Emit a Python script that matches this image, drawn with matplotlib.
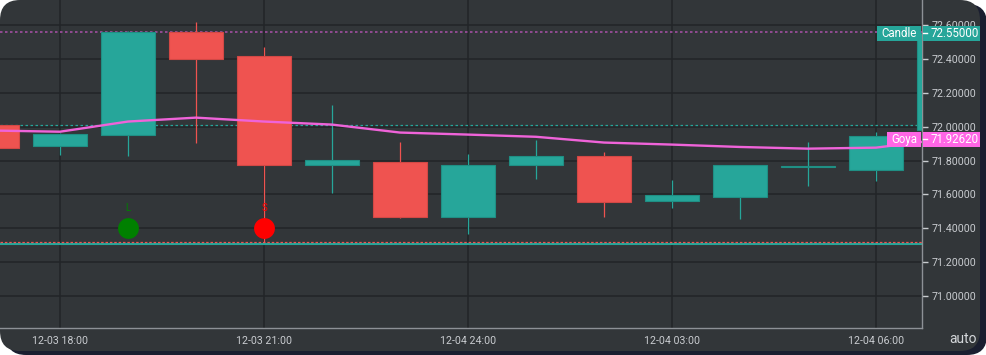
import matplotlib.pyplot as plt
from matplotlib.patches import FancyBboxPatch, Rectangle
from matplotlib.transforms import IdentityTransform, blended_transform_factory
import numpy as np

plt.rcParams['font.family'] = ['Roboto', 'DejaVu Sans']

# hourly candles, hours counted from 12-03 00:00
hours  = [17, 18, 19, 20, 21, 22, 23, 24, 25, 26, 27, 28, 29, 30, 31]
opens  = [72.012, 71.888, 71.953, 72.559, 72.418, 71.776, 71.794, 71.465, 71.771, 71.829, 71.559, 71.582, 71.762, 71.747, 71.980]
closes = [71.876, 71.959, 72.559, 72.400, 71.776, 71.806, 71.465, 71.776, 71.829, 71.553, 71.594, 71.776, 71.767, 71.947, 72.550]
highs  = [72.012, 71.965, 72.565, 72.618, 72.470, 72.130, 71.912, 71.841, 71.924, 71.853, 71.688, 71.776, 71.912, 71.970, 72.550]
lows   = [71.876, 71.835, 71.824, 71.906, 71.320, 71.610, 71.460, 71.365, 71.690, 71.465, 71.518, 71.453, 71.647, 71.680, 71.980]
goya   = [71.977, 71.970, 72.030, 72.053, 72.030, 72.012, 71.965, 71.953, 71.940, 71.906, 71.894, 71.880, 71.870, 71.876, 71.9262]

signal_hours = [19, 21]
signal_price = [71.40, 71.40]
signal_text = ['L', 'S']
signal_col = ['#008000', '#ff0000']

last_price = 72.55
goya_last = 71.9262
tick_hours = [18, 21, 24, 27, 30]
tick_labels = ['12-03 18:00', '12-03 21:00', '12-04 24:00', '12-04 03:00', '12-04 06:00']
yticks = [71.0, 71.2, 71.4, 71.6, 71.8, 72.0, 72.2, 72.4, 72.6]

UP = '#26a69a'
DOWN = '#ef5350'
BG = '#323639'
GRID = '#222528'
TXT = '#c9ccd0'
PINK = '#ff66e6'

W, H = 987, 355
fig = plt.figure(figsize=(W / 100, H / 100), dpi=100)
fig.patch.set_facecolor('white')

# card + shadow (pixel coords), drawn under the axes
shadow = FancyBboxPatch((6, 0), 981, 351, boxstyle='round,pad=0,rounding_size=20',
                        transform=IdentityTransform(), facecolor='#1a1e30', edgecolor='none',
                        zorder=-2)
card = FancyBboxPatch((0, 4), 980, 351, boxstyle='round,pad=0,rounding_size=20',
                      transform=IdentityTransform(), facecolor=BG, edgecolor='none',
                      zorder=-1)
fig.add_artist(shadow)
fig.add_artist(card)

ax = fig.add_axes([0, 27 / H, 922 / W, 328 / H])
ax.patch.set_visible(False)
ax.set_xlim(18 - 60 / 68, 18 + 862 / 68)
ax.set_ylim(70.812, 72.747)

# grid
for y in yticks:
    ax.axhline(y, color=GRID, lw=1.1, zorder=0)
for x in tick_hours:
    ax.axvline(x, color=GRID, lw=1.1, zorder=0)

# candles
hours = np.array(hours)
o, c = np.array(opens), np.array(closes)
cols = np.where(c >= o, UP, DOWN)
edges = np.where(c >= o, '#1f8f84', '#d24845')
ax.vlines(hours, lows, highs, colors=cols, lw=0.9, zorder=2)
ax.bar(hours, np.maximum(np.abs(c - o), 0.004), bottom=np.minimum(o, c), width=54 / 68,
       color=cols, edgecolor=edges, lw=0.8, zorder=3)

# level lines
ax.axhline(72.56, color='#a04fa0', lw=1.2, ls=(0, (1.5, 1.5)), zorder=1)
ax.axhline(72.012, color=UP, lw=0.9, ls=(0, (2, 2)), zorder=1)
ax.axhline(71.310, color=UP, lw=1.5, zorder=1)
ax.axhline(71.322, color=DOWN, lw=0.9, ls=(0, (2, 1.5)), zorder=1)

# goya line
ax.plot(hours, goya, color='#ef63d9', lw=1.7, zorder=4)

# signals
for hx, py, t, col in zip(signal_hours, signal_price, signal_text, signal_col):
    ax.plot(hx, py, 'o', ms=15, color=col, mec='none', zorder=5)
    ax.text(hx, py + 0.118, t, color=col, fontsize=7, ha='center', va='center', zorder=5)

# axes styling
for s in ['top', 'left']:
    ax.spines[s].set_visible(False)
for s in ['right', 'bottom']:
    ax.spines[s].set_color('#8d9196')
    ax.spines[s].set_linewidth(1)
ax.yaxis.tick_right()
ax.set_yticks(yticks)
ax.set_yticklabels(['%.5f' % v for v in yticks])
ax.set_xticks(tick_hours)
ax.set_xticklabels(tick_labels)
ax.tick_params(axis='y', colors=TXT, length=4, width=1, labelsize=7.7, pad=3)
ax.tick_params(axis='x', colors=TXT, length=0, labelsize=7.7, pad=6)

for art in ax.get_children():
    if not isinstance(art, plt.Text):
        art.set_clip_path(card)

# price badges
tr = blended_transform_factory(ax.transAxes, ax.transData)
bh = 15 / 170
for name, val, col in [('Candle', last_price, UP), ('Goya', goya_last, PINK)]:
    nw = (44 if name == 'Candle' else 34) / 922
    ax.add_patch(Rectangle((1 - nw - 1 / 922, val - bh / 2), nw, bh, transform=tr,
                           facecolor=col, edgecolor='none', clip_on=False, zorder=6))
    ax.add_patch(Rectangle((1 + 1 / 922, val - bh / 2), 57 / 922, bh, transform=tr,
                           facecolor=col, edgecolor='none', clip_on=False, zorder=6))
    ax.plot([1 + 1 / 922, 1 + 5 / 922], [val, val], transform=tr, color='white', lw=1,
            clip_on=False, zorder=7)
    ax.text(1 - nw / 2 - 1 / 922, val, name, transform=tr, color='white', fontsize=8.3,
            ha='center', va='center', zorder=7, clip_on=False)
    ax.text(1 + 9 / 922, val, '%.5f' % val, transform=tr, color='white', fontsize=8.3,
            ha='left', va='center', zorder=7, clip_on=False)

fig.text(963 / W, 1 - 339 / H, 'auto', color='#d4d7da', fontsize=10, ha='center', va='center')

fig.savefig('out.png', dpi=100, facecolor=fig.get_facecolor())
